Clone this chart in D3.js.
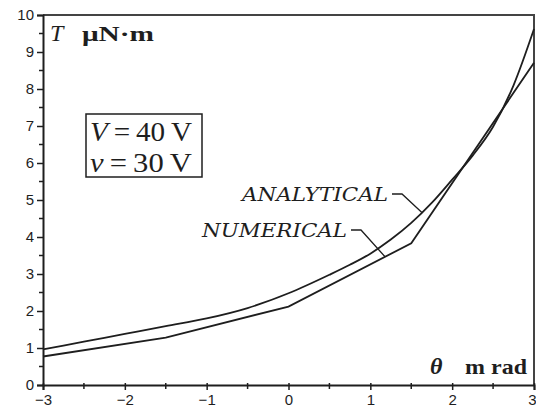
<!DOCTYPE html>
<html>
<head>
<meta charset="utf-8">
<script src="https://cdn.jsdelivr.net/npm/d3@7"></script>
<style>
  html, body { margin: 0; padding: 0; background: #fff; }
  svg { display: block; }
</style>
</head>
<body>
<div id="chart"></div>
<script>
// Torque T (µN·m) versus angle θ (mrad)
const analyticalTheta = [-3, -2.5, -2, -1.5, -1, -0.5, 0, 0.5, 0.75, 1, 1.25, 1.5, 1.75, 2, 2.25, 2.5, 2.75, 3];
const analyticalT     = [0.96, 1.17, 1.38, 1.59, 1.80, 2.08, 2.48, 2.98, 3.25, 3.55, 3.93, 4.38, 4.92, 5.55, 6.20, 6.98, 8.10, 9.62];
const numericalTheta  = [-3, -1.5, 0, 1.5, 3];
const numericalT      = [0.77, 1.28, 2.12, 3.83, 8.71];

const xTicks = [-3, -2, -1, 0, 1, 2, 3];
const xMinorTicks = [-2.5, -1.5, -0.5, 0.5, 1.5, 2.5];
const yTicks = [0, 1, 2, 3, 4, 5, 6, 7, 8, 9, 10];
const yMinorTicks = [0.5, 1.5, 2.5, 3.5, 4.5, 5.5, 6.5, 7.5, 8.5, 9.5];

const W = 536, H = 414;
const svg = d3.select("#chart").append("svg").attr("width", W).attr("height", H);
svg.append("rect").attr("width", W).attr("height", H).attr("fill", "#fff");

const x = d3.scaleLinear().domain([-3, 3]).range([43, 534]);
const y = d3.scaleLinear().domain([0, 10]).range([385, 15]);

const ink = "#1e1e1e";
const serif = "'DejaVu Serif', 'Liberation Serif', serif";
const times = "'Liberation Serif', 'Times New Roman', serif";
const sans = "'Liberation Sans', Arial, sans-serif";

// frame (top and right)
svg.append("path")
  .attr("d", `M${x(-3)},${y(10)}H${x(3)}V${y(0)}`)
  .attr("fill", "none").attr("stroke", "#444").attr("stroke-width", 2);

// axes
const xAxis = d3.axisBottom(x).tickValues(xTicks).tickSize(5).tickPadding(4)
  .tickFormat(d => d < 0 ? "\u2212" + Math.abs(d) : d);
const gx = svg.append("g").attr("transform", `translate(0,${y(0)})`).call(xAxis);
gx.select(".domain").attr("stroke", ink).attr("stroke-width", 2);
gx.selectAll(".tick line").attr("stroke", ink).attr("stroke-width", 1.5).attr("y1", -2);
gx.selectAll(".tick text").attr("font-family", sans).attr("font-size", 15).attr("fill", ink);
// last label sits against the right edge
gx.selectAll(".tick text").filter(d => d === 3).attr("text-anchor", "end").attr("dx", 2);
gx.selectAll(".minor").data(xMinorTicks).enter().append("line")
  .attr("x1", d => x(d)).attr("x2", d => x(d)).attr("y1", -2).attr("y2", 4)
  .attr("stroke", ink).attr("stroke-width", 1.5);

const yAxis = d3.axisLeft(y).tickValues(yTicks).tickSize(6).tickPadding(3);
const gy = svg.append("g").attr("transform", `translate(${x(-3)},0)`).call(yAxis);
gy.select(".domain").attr("stroke", ink).attr("stroke-width", 2);
gy.selectAll(".tick line").attr("stroke", ink).attr("stroke-width", 1.5);
gy.selectAll(".tick text").attr("font-family", sans).attr("font-size", 15).attr("fill", ink);
gy.selectAll(".minor").data(yMinorTicks).enter().append("line")
  .attr("x1", -4).attr("x2", 0).attr("y1", d => y(d)).attr("y2", d => y(d))
  .attr("stroke", ink).attr("stroke-width", 1.5);

// curves
const line = d3.line().x(d => x(d[0])).y(d => y(d[1]));
const analytical = analyticalTheta.map((t, i) => [t, analyticalT[i]]);
const numerical = numericalTheta.map((t, i) => [t, numericalT[i]]);

svg.append("path").datum(analytical)
  .attr("d", line.curve(d3.curveMonotoneX))
  .attr("fill", "none").attr("stroke", ink).attr("stroke-width", 1.8);
svg.append("path").datum(numerical)
  .attr("d", line.curve(d3.curveLinear))
  .attr("fill", "none").attr("stroke", ink).attr("stroke-width", 1.8);

// value of a series at a given θ (linear between samples)
function at(xs, ys, t) {
  const i = Math.max(1, d3.bisectLeft(xs, t));
  const f = (t - xs[i - 1]) / (xs[i] - xs[i - 1]);
  return ys[i - 1] + f * (ys[i] - ys[i - 1]);
}

// series labels with leader lines
function label(text, x0, x1, baseline, target) {
  svg.append("text").text(text)
    .attr("x", x0).attr("y", baseline)
    .attr("font-family", serif).attr("font-style", "italic").attr("font-size", 19)
    .attr("textLength", x1 - x0).attr("lengthAdjust", "spacingAndGlyphs")
    .attr("fill", ink);
  const ly = baseline - 7;
  svg.append("path")
    .attr("d", `M${x1 + 4},${ly}H${x1 + 14}L${target[0]},${target[1]}`)
    .attr("fill", "none").attr("stroke", ink).attr("stroke-width", 1.3);
}
label("ANALYTICAL", 242, 388, 201,
  [x(1.63), y(at(analyticalTheta, analyticalT, 1.63))]);
label("NUMERICAL", 202, 347, 237,
  [x(1.18), y(at(numericalTheta, numericalT, 1.18))]);

// y-axis title
svg.append("text").text("T").attr("x", 50).attr("y", 41)
  .attr("font-family", times).attr("font-style", "italic").attr("font-size", 24).attr("fill", ink);
svg.append("text").text("\u03bcN\u00b7m").attr("x", 82).attr("y", 41)
  .attr("font-family", times).attr("font-weight", "bold").attr("font-size", 22)
  .attr("textLength", 72).attr("lengthAdjust", "spacingAndGlyphs").attr("fill", ink);

// x-axis title
svg.append("text").text("\u03b8").attr("x", 430).attr("y", 374)
  .attr("font-family", times).attr("font-style", "italic").attr("font-weight", "bold").attr("font-size", 24).attr("fill", ink);
svg.append("text").text("m rad").attr("x", 465).attr("y", 374)
  .attr("font-family", times).attr("font-weight", "bold").attr("font-size", 22)
  .attr("textLength", 62).attr("lengthAdjust", "spacingAndGlyphs").attr("fill", ink);

// voltage box
svg.append("rect").attr("x", 86).attr("y", 114).attr("width", 116).attr("height", 63)
  .attr("fill", "#fff").attr("stroke", ink).attr("stroke-width", 1.5);
function boxLine(sym, rest, baseline) {
  const t = svg.append("text").attr("x", 90).attr("y", baseline)
    .attr("font-family", times).attr("font-size", 27).attr("fill", ink)
    .attr("textLength", 102).attr("lengthAdjust", "spacingAndGlyphs");
  t.append("tspan").attr("font-style", "italic").text(sym);
  t.append("tspan").text(rest);
}
boxLine("V", "\u2009=\u200940\u2009V", 141);
boxLine("v", "\u2009=\u200930\u2009V", 172);
</script>
</body>
</html>
